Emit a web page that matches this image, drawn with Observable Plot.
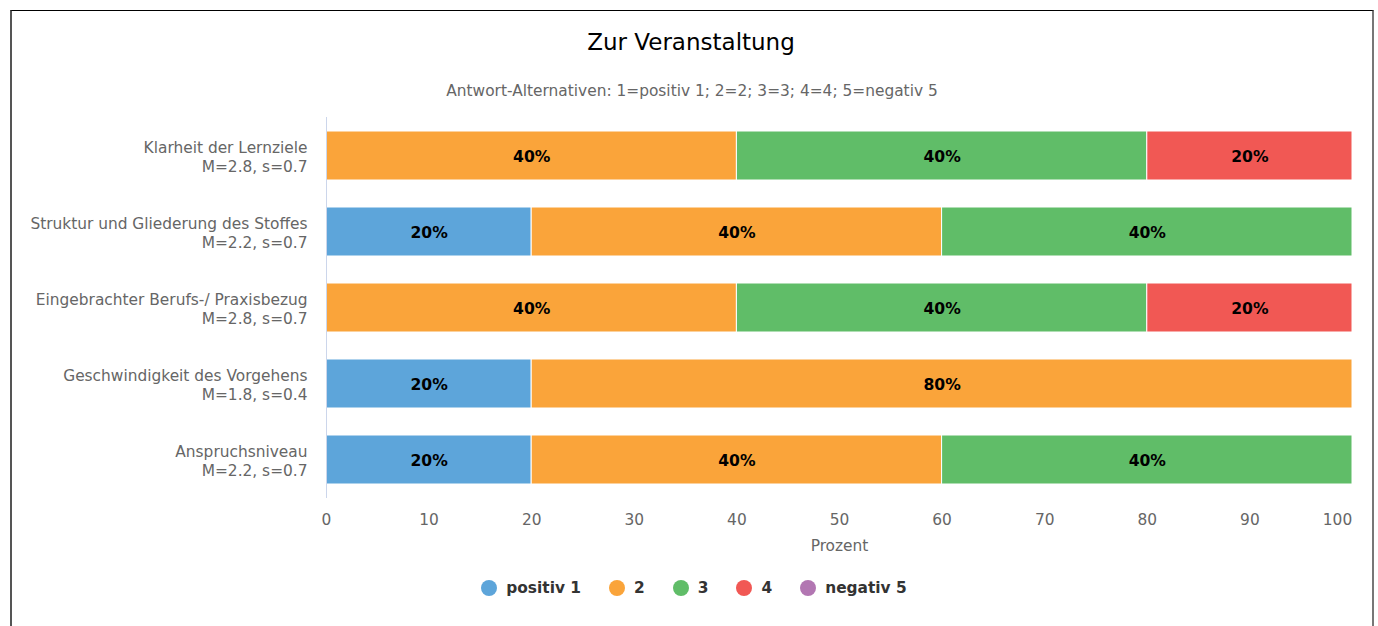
<!DOCTYPE html>
<html>
<head>
<meta charset="utf-8">
<script src="https://cdn.jsdelivr.net/npm/d3@7"></script>
<script src="https://cdn.jsdelivr.net/npm/@observablehq/plot@0.6"></script>
<style>
  html, body { margin: 0; padding: 0; background: #fff; font-family: "DejaVu Sans", sans-serif; }
  #frame { position: absolute; left: 10px; top: 10px; width: 1364px; height: 700px;
           border-top: 1px solid #000; border-left: 2px solid #555; border-right: 2px solid #777; box-sizing: border-box; }
  #title { position: absolute; left: 0; width: 1382px; top: 29px; text-align: center; font-size: 23px; color: #000; line-height: 27px; }
  #subtitle { position: absolute; left: 0; width: 1384px; top: 82px; text-align: center; font-size: 15.4px; color: #666; line-height: 18px; }
  #chart { position: absolute; left: 0; top: 110px; }
  #legend { position: absolute; left: 0; width: 1388px; top: 579px; display: flex; justify-content: center; gap: 28px;
            font-size: 15.4px; font-weight: bold; color: #333; line-height: 18px; }
  .item { display: flex; align-items: center; gap: 9px; }
  .dot { width: 16px; height: 16px; border-radius: 50%; display: inline-block; }
</style>
</head>
<body>
<div id="frame"></div>
<div id="title">Zur Veranstaltung</div>
<div id="subtitle">Antwort-Alternativen: 1=positiv 1; 2=2; 3=3; 4=4; 5=negativ 5</div>
<div id="chart"></div>
<div id="legend"></div>
<script>
const categories = [
  "Klarheit der Lernziele",
  "Struktur und Gliederung des Stoffes",
  "Eingebrachter Berufs-/ Praxisbezug",
  "Geschwindigkeit des Vorgehens",
  "Anspruchsniveau"
];
const stats = ["M=2.8, s=0.7", "M=2.2, s=0.7", "M=2.8, s=0.7", "M=1.8, s=0.4", "M=2.2, s=0.7"];
const levels = ["positiv 1", "2", "3", "4", "negativ 5"];
const levelColors = ["#5DA5DA", "#FAA43A", "#60BD68", "#F15854", "#B276B2"];
// percent per category for each level
const positiv1 = [0, 20, 0, 20, 20];
const level2   = [40, 40, 40, 80, 40];
const level3   = [40, 40, 40, 0, 40];
const level4   = [20, 0, 20, 0, 0];
const negativ5 = [0, 0, 0, 0, 0];
const xTicks = [0, 10, 20, 30, 40, 50, 60, 70, 80, 90, 100];

const series = [positiv1, level2, level3, level4, negativ5];
const rows = [];
categories.forEach((c, i) => {
  series.forEach((s, k) => {
    if (s[i] > 0) rows.push({cat: c, level: levels[k], pct: s[i]});
  });
});
const labelRows = categories.map((c, i) => ({cat: c, label: c + "\n" + stats[i]}));
const fs = 15.4;

const plot = Plot.plot({
  width: 1378,
  height: 460,
  marginLeft: 326,
  marginRight: 26,
  marginTop: 7,
  marginBottom: 72,
  style: {fontFamily: "DejaVu Sans", fontSize: fs + "px", background: "transparent"},
  x: {domain: [0, 100], ticks: xTicks},
  y: {domain: categories, paddingInner: 0.36, paddingOuter: 0.18, axis: null},
  color: {domain: levels, range: levelColors},
  marks: [
    Plot.barX(rows, Plot.stackX({x: "pct", y: "cat", fill: "level", stroke: "#fff", strokeWidth: 1})),
    Plot.text(rows, Plot.stackX({x: "pct", y: "cat", text: d => d.pct + "%", fill: "#000", fontWeight: "bold", fontSize: 15.6, dy: 1})),
    Plot.ruleX([0], {stroke: "#ccd6eb", strokeWidth: 1}),
    Plot.text(labelRows, {x: () => 0, y: "cat", text: "label", textAnchor: "end", dx: -19, dy: 0, lineHeight: 1.23, fill: "#666", fontSize: fs}),
    Plot.axisX({ticks: xTicks.filter(t => t < 100), tickSize: 0, tickPadding: 16, fill: "#666", fontSize: fs, label: null}),
    Plot.axisX({ticks: xTicks.filter(t => t === 100), tickSize: 0, tickPadding: 16, dx: -15, fill: "#666", fontSize: fs, label: null}),
    Plot.text(["Prozent"], {frameAnchor: "bottom", dy: 52, fill: "#666", fontSize: fs})
  ]
});
document.getElementById("chart").appendChild(plot);

const legend = document.getElementById("legend");
levels.forEach((l, k) => {
  const it = document.createElement("div");
  it.className = "item";
  const dot = document.createElement("span");
  dot.className = "dot";
  dot.style.background = levelColors[k];
  const t = document.createElement("span");
  t.textContent = l;
  it.appendChild(dot); it.appendChild(t);
  legend.appendChild(it);
});
</script>
</body>
</html>
